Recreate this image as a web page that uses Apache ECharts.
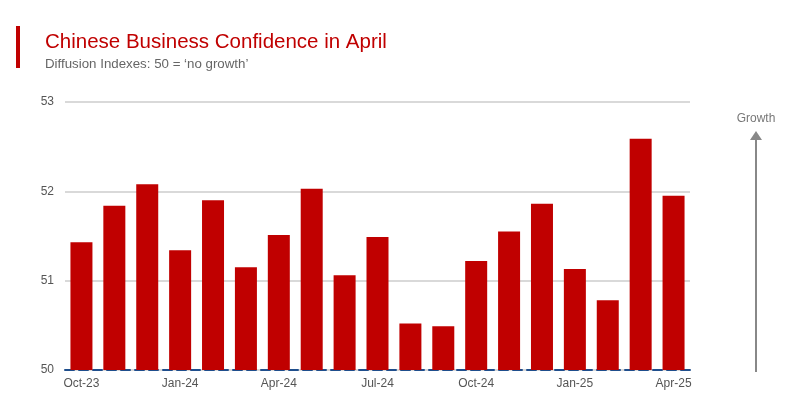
<!DOCTYPE html>
<html>
<head>
<meta charset="utf-8">
<script src="https://cdn.jsdelivr.net/npm/echarts@6/dist/echarts.min.js"></script>
<style>
html,body{margin:0;padding:0;background:#fff;}
#chart{width:800px;height:400px;}
</style>
</head>
<body>
<div id="chart"></div>
<script>
var categories = ['Oct-23','Nov-23','Dec-23','Jan-24','Feb-24','Mar-24','Apr-24','May-24','Jun-24','Jul-24','Aug-24','Sep-24','Oct-24','Nov-24','Dec-24','Jan-25','Feb-25','Mar-25','Apr-25'];
var values = [51.43,51.84,52.08,51.34,51.90,51.15,51.51,52.03,51.06,51.49,50.52,50.49,51.22,51.55,51.86,51.13,50.78,52.59,51.95];
var yTicks = [50,51,52,53];
var titleText = 'Chinese Business Confidence in April';
var subtitleText = 'Diffusion Indexes: 50 = \u2018no growth\u2019';
var arrowLabel = 'Growth';

var chart = echarts.init(document.getElementById('chart'));
chart.setOption({
  animation: false,
  backgroundColor: '#fff',
  title: {
    text: titleText,
    subtext: subtitleText,
    left: 40,
    top: 27,
    itemGap: 5,
    textStyle: {color: '#c00000', fontSize: 20.5, fontWeight: 'normal', fontFamily: 'Liberation Sans, Arial, sans-serif'},
    subtextStyle: {color: '#666', fontSize: 13.3, fontFamily: 'Liberation Sans, Arial, sans-serif'}
  },
  grid: {left: 65, right: 110, top: 102, bottom: 30, containLabel: false},
  xAxis: {
    type: 'category',
    data: categories,
    axisLine: {show: true, lineStyle: {color: '#1f4e8c', width: 2, type: [9,5]}},
    axisTick: {show: false},
    axisLabel: {
      color: '#555', fontSize: 12, margin: 8,
      fontFamily: 'Liberation Sans, Arial, sans-serif',
      interval: function(i){ return i % 3 === 0; }
    }
  },
  yAxis: {
    type: 'value',
    min: yTicks[0],
    max: yTicks[yTicks.length-1],
    interval: 1,
    axisLine: {show: false},
    axisTick: {show: false},
    splitLine: {lineStyle: {color: '#d9d9d9', width: 2}},
    axisLabel: {color: '#555', fontSize: 12, margin: 11, fontFamily: 'Liberation Sans, Arial, sans-serif'}
  },
  series: [{
    type: 'bar',
    data: values,
    barWidth: 22,
    itemStyle: {color: '#c00000'},
    z: 1
  }],
  graphic: [
    {type: 'rect', shape: {x: 16, y: 26, width: 4, height: 42}, style: {fill: '#c00000'}},
    {type: 'line', shape: {x1: 756, y1: 372, x2: 756, y2: 138}, style: {stroke: '#888', lineWidth: 2}},
    {type: 'polygon', shape: {points: [[756,131],[750,140],[762,140]]}, style: {fill: '#888'}},
    {type: 'text', style: {text: arrowLabel, x: 756, y: 119, align: 'center', verticalAlign: 'middle', fill: '#777', fontSize: 12, fontFamily: 'Liberation Sans, Arial, sans-serif'}}
  ]
});
</script>
</body>
</html>
